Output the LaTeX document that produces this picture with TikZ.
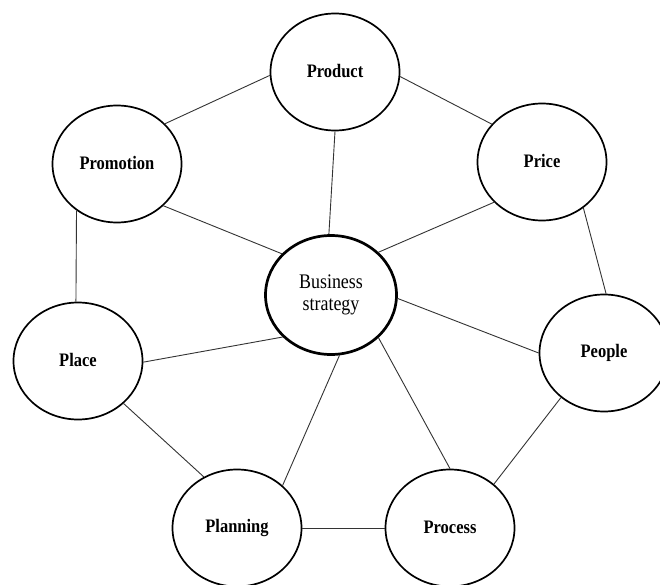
\documentclass[tikz,border=0pt]{standalone}
\usepackage{fontspec}
\setmainfont{Liberation Serif}
\usetikzlibrary{shapes.geometric}
\newcommand\tallt[1]{\raisebox{2pt}{\scalebox{0.97}[1.12]{#1}}}
\tikzset{
  outer/.style={ellipse, draw=black, line width=1.7pt, minimum width=129pt, minimum height=117pt, inner sep=0pt, font=\fontsize{17}{19}\selectfont\bfseries, fill=white},
  center/.style={ellipse, draw=black, line width=2.7pt, minimum width=131pt, minimum height=119pt, inner sep=0pt, font=\fontsize{18.5}{22}\selectfont, align=center, fill=white},
  link/.style={draw=black!80, line width=0.9pt}
}
\begin{document}
\begin{tikzpicture}[x=1pt,y=-1pt]
\useasboundingbox (0,0) rectangle (660,585);
\fill[white] (0,0) rectangle (660,585);
\node[outer] (prod) at (335,72) {\tallt{Product}};
\node[outer] (promo) at (117,164) {\tallt{Promotion}};
\node[outer] (price) at (542,162) {\tallt{Price}};
\node[center] (bus) at (331,295) {\tallt{Business}\\\tallt{strategy}};
\node[outer] (place) at (78,361) {\tallt{Place}};
\node[outer] (people) at (604,353) {\tallt{People}};
\node[outer] (plan) at (237,528) {\tallt{Planning}};
\node[outer] (proc) at (450,528) {\tallt{Process}};
\draw[link] (prod.183) -- (promo.40);
\draw[link] (prod.-4) -- (price.143);
\draw[link] (prod.270) -- (bus.92);
\draw[link] (promo.-42) -- (bus.140);
\draw[link] (price.220) -- (bus.42);
\draw[link] (price.-48) -- (people.88);
\draw[link] (promo.229) -- (place.92);
\draw[link] (place.-1) -- (bus.221);
\draw[link] (people.180) -- (bus.-3);
\draw[link] (place.-43) -- (plan.123);
\draw[link] (people.226) -- (proc.45);
\draw[link] (plan.43) -- (bus.278);
\draw[link] (proc.90) -- (bus.-42);
\draw[link] (plan.0) -- (proc.180);
\end{tikzpicture}
\end{document}
